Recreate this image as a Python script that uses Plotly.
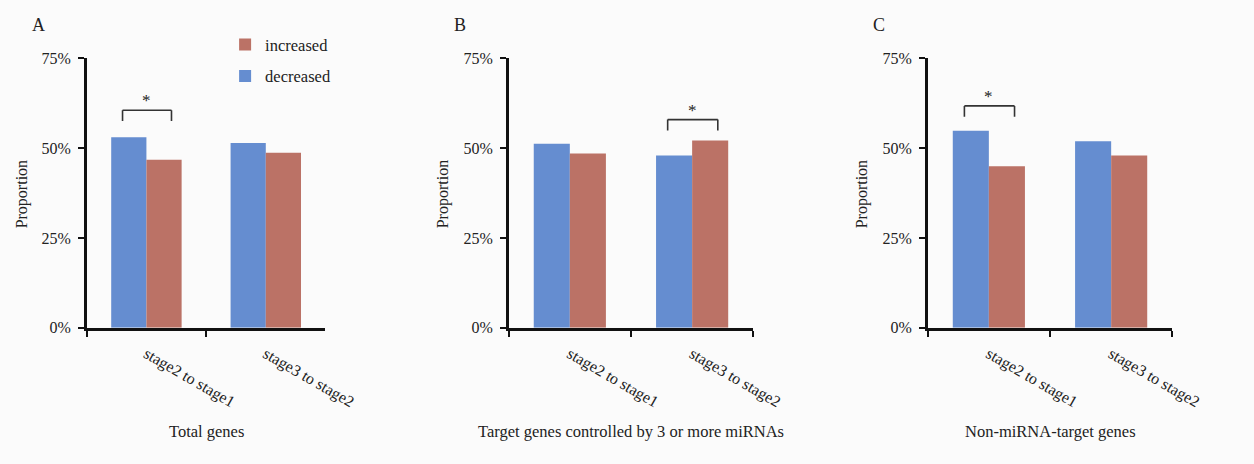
import plotly.graph_objects as go

W, H = 1254, 464

categories = ["stage2 to stage1", "stage3 to stage2"]
decreased_A = [53.0, 51.4]
increased_A = [46.7, 48.7]
decreased_B = [51.2, 47.9]
increased_B = [48.5, 52.1]
decreased_C = [54.8, 51.9]
increased_C = [44.9, 47.9]

panel_letters = ["A", "B", "C"]
panel_titles = ["Total genes", "Target genes controlled by 3 or more miRNAs", "Non-miRNA-target genes"]
sig_category = [0, 1, 0]          # category index carrying the significance bracket
sig_bracket_top = [60.5, 57.9, 61.7]
y_ticks = [0, 25, 50, 75]

BLUE = "#658dd0"
RED = "#bb7266"
FONT = "Liberation Serif"
TXT = "#222222"

def px(x):
    return x / W

def py(y):
    return 1 - y / H

x_domains = [[px(89), px(334)], [px(522), px(773)], [px(952), px(1203)]]
y_domain = [py(332), py(52)]

fig = go.Figure()
series = [(decreased_A, increased_A), (decreased_B, increased_B), (decreased_C, increased_C)]
for i, (dec, inc) in enumerate(series):
    xa = "x" if i == 0 else f"x{i+1}"
    ya = "y" if i == 0 else f"y{i+1}"
    fig.add_trace(go.Bar(x=categories, y=dec, name="decreased", marker=dict(color=BLUE, line=dict(width=0)),
                         xaxis=xa, yaxis=ya, showlegend=(i == 0), legendgroup="dec", legendrank=2))
    fig.add_trace(go.Bar(x=categories, y=inc, name="increased", marker=dict(color=RED, line=dict(width=0)),
                         xaxis=xa, yaxis=ya, showlegend=(i == 0), legendgroup="inc", legendrank=1))

layout = dict(
    width=W, height=H,
    margin=dict(l=0, r=0, t=0, b=0),
    paper_bgcolor="#fbfbfb", plot_bgcolor="#fbfbfb",
    barmode="group", bargap=0.41, bargroupgap=0,
    font=dict(family=FONT, size=16, color=TXT),
    legend=dict(x=px(231), y=py(20), xanchor="left", yanchor="top",
                traceorder="grouped", tracegroupgap=7,
                font=dict(family=FONT, size=16.5, color=TXT),
                bgcolor="rgba(0,0,0,0)"),
    showlegend=True,
)
annotations = []
shapes = []
for i in range(3):
    sx = "" if i == 0 else str(i + 1)
    layout[f"xaxis{sx}"] = dict(
        domain=x_domains[i], anchor=f"y{sx}", type="category",
        showline=True, linecolor="#111111", linewidth=2.5,
        ticks="outside", tickson="boundaries", ticklen=6, tickwidth=2, tickcolor="#111111",
        tickangle=30, ticklabelstandoff=8, tickfont=dict(family=FONT, size=16, color=TXT),
        showgrid=False, zeroline=False, fixedrange=True,
    )
    layout[f"yaxis{sx}"] = dict(
        domain=y_domain, anchor=f"x{sx}", range=[0, 75],
        tickvals=y_ticks, ticktext=[f"{v}%" for v in y_ticks],
        showline=True, linecolor="#111111", linewidth=2.5,
        ticks="outside", ticklen=6, tickwidth=2, tickcolor="#111111",
        ticklabelstandoff=4, tickfont=dict(family=FONT, size=16, color=TXT),
        showgrid=False, zeroline=False, fixedrange=True,
    )
    cx0, cx1 = x_domains[i]
    # x title
    annotations.append(dict(text=panel_titles[i], x=(cx0 + cx1) / 2, y=py(440), xref="paper", yref="paper",
                            showarrow=False, xanchor="center", yanchor="middle",
                            font=dict(family=FONT, size=16.5, color=TXT)))
    # y title
    annotations.append(dict(text="Proportion", x=cx0 - px(67), y=py(193), xref="paper", yref="paper",
                            showarrow=False, textangle=-90, xanchor="center", yanchor="middle",
                            font=dict(family=FONT, size=16, color=TXT)))
    # panel letter
    annotations.append(dict(text=panel_letters[i], x=cx0 - px(50), y=py(18), xref="paper", yref="paper",
                            showarrow=False, xanchor="center", yanchor="middle",
                            font=dict(family=FONT, size=18, color=TXT)))
    # significance bracket
    c = sig_category[i]
    top = sig_bracket_top[i]
    xl, xr = c - 0.2, c + 0.21
    lc = dict(color="#333333", width=1.6)
    shapes.append(dict(type="line", xref=f"x{sx}", yref=f"y{sx}", x0=xl, x1=xr, y0=top, y1=top, line=lc))
    shapes.append(dict(type="line", xref=f"x{sx}", yref=f"y{sx}", x0=xl, x1=xl, y0=top, y1=top - 3, line=lc))
    shapes.append(dict(type="line", xref=f"x{sx}", yref=f"y{sx}", x0=xr, x1=xr, y0=top, y1=top - 3, line=lc))
    annotations.append(dict(text="*", x=c, y=top, xref=f"x{sx}", yref=f"y{sx}", showarrow=False,
                            xanchor="center", yanchor="bottom", yshift=-2,
                            font=dict(family=FONT, size=17, color=TXT)))

layout["annotations"] = annotations
layout["shapes"] = shapes
fig.update_layout(**layout)
fig.write_html("out.html")
